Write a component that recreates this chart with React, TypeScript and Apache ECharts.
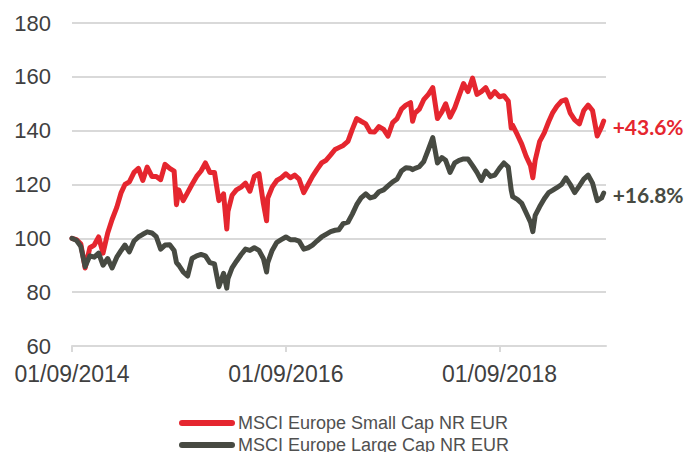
import React, { useEffect, useRef } from "react";
import * as echarts from "echarts";

const seriesNames = ["MSCI Europe Small Cap NR EUR", "MSCI Europe Large Cap NR EUR"];
const endLabels = ["+43.6%", "+16.8%"];
const yTicks = [60, 80, 100, 120, 140, 160, 180];
const xTickDates = ["2014-09-01", "2016-09-01", "2018-09-01"];

const dates = [
  "2014-09-01","2014-09-16","2014-10-01","2014-10-16","2014-11-01","2014-11-16","2014-12-01","2014-12-16",
  "2015-01-01","2015-01-16","2015-02-01","2015-02-16","2015-03-01","2015-03-16","2015-04-01","2015-04-16",
  "2015-05-01","2015-05-16","2015-06-01","2015-06-16","2015-07-01","2015-07-16","2015-08-01","2015-08-16",
  "2015-08-24","2015-09-01","2015-09-16","2015-10-01","2015-10-16","2015-11-01","2015-11-16","2015-12-01",
  "2015-12-16","2016-01-01","2016-01-16","2016-02-01","2016-02-12","2016-02-16","2016-03-01","2016-03-16",
  "2016-04-01","2016-04-16","2016-05-01","2016-05-16","2016-06-01","2016-06-16","2016-06-27","2016-07-01",
  "2016-07-16","2016-08-01","2016-08-16","2016-09-01","2016-09-16","2016-10-01","2016-10-16","2016-11-01",
  "2016-11-16","2016-12-01","2016-12-16","2017-01-01","2017-01-16","2017-02-01","2017-02-16","2017-03-01",
  "2017-03-16","2017-04-01","2017-04-16","2017-05-01","2017-05-16","2017-06-01","2017-06-16","2017-07-01",
  "2017-07-16","2017-08-01","2017-08-16","2017-09-01","2017-09-16","2017-10-01","2017-10-16","2017-11-01",
  "2017-11-08","2017-11-16","2017-12-01","2017-12-16","2018-01-01","2018-01-16","2018-02-01","2018-02-16",
  "2018-03-01","2018-03-16","2018-04-01","2018-04-16","2018-05-01","2018-05-16","2018-06-01","2018-06-16",
  "2018-07-01","2018-07-16","2018-08-01","2018-08-16","2018-09-01","2018-09-16","2018-10-01","2018-10-11",
  "2018-10-16","2018-11-01","2018-11-16","2018-12-01","2018-12-16","2018-12-24","2019-01-01","2019-01-16",
  "2019-02-01","2019-02-16","2019-03-01","2019-03-16","2019-04-01","2019-04-16","2019-05-01","2019-05-16",
  "2019-06-01","2019-06-16","2019-07-01","2019-07-16","2019-08-01","2019-08-16","2019-08-23"
];

const smallCap = [
  100, 99.5, 98, 89, 96.5, 97.5, 100.5, 94.5,
  102, 107, 111.5, 117, 120, 121, 124.5, 126,
  121.5, 126.5, 123, 123, 121.8, 127.5, 126, 125,
  112.5, 118, 114, 117, 120, 123, 125, 128,
  124.5, 124.5, 114, 116.5, 103.5, 110, 116, 118,
  119, 120.5, 117.5, 123, 124, 113, 106.5, 115,
  119, 121.5, 122.5, 124, 122.5, 123.5, 122, 117,
  120, 123, 125.5, 128, 129, 131, 133, 133.7,
  134.5, 136, 140.5, 144.5, 143.5, 142.5, 139.6, 139.5,
  141.5, 140.5, 138, 143, 144.5, 148, 149.5, 150.4,
  143.5, 146.5, 148, 151.5, 153.5, 156, 144.5, 147,
  150, 145, 148.5, 153, 157.5, 154.5, 159.5, 153.5,
  154.5, 156, 152.5, 154.5, 152.6, 153, 151, 141,
  142, 138.5, 135, 130.5, 127, 122.5, 129, 135.9,
  139.2, 143.3, 146.5, 149, 151, 151.5, 146.5, 144,
  142.5, 147.5, 149.5, 147.5, 138, 141.5, 143.6
];

const largeCap = [
  100, 99.3, 97, 89.5, 93.5, 93, 94.5, 90,
  92.5, 89, 93, 95.5, 97.5, 95, 99, 100.5,
  101.5, 102.4, 102, 100.6, 96, 97.5, 97.6, 95.5,
  91, 90, 87.5, 86, 92.5, 93.5, 94, 93.5,
  91, 90.5, 82, 87, 81.5, 85, 89, 91.5,
  94, 96, 95.5, 96.5, 95.5, 92.5, 87.5, 91,
  95.5, 98.5, 99.5, 100.5, 99.5, 99.5, 99, 96,
  96.5, 97.5, 99, 100.5, 101.5, 102.5, 103, 103.2,
  105.5, 106, 109, 112.5, 115, 116.5, 115, 115.5,
  117.3, 118, 119.5, 121, 122, 125, 126.2, 126,
  125.5, 126, 126.6, 128.5, 133, 137.4, 128, 130,
  129, 124.5, 128, 129, 129.5, 129.5, 127, 124.5,
  121.5, 125, 123, 123.5, 126, 128, 126.5, 118,
  115.5, 114.5, 113, 109.5, 106, 102.5, 108.5, 111.7,
  114.7, 117, 117.8, 118.8, 120, 122.5, 120, 117,
  119.5, 122, 123.5, 120.5, 114, 115, 116.8
];

const RED = "#E5262F";
const DARK = "#474A42";
const AXIS_TEXT = "#404040";
const FONT = "'Liberation Sans', Arial, sans-serif";

function toTs(s: string) {
  const [y, m, d] = s.split("-").map(Number);
  return Date.UTC(y, m - 1, d);
}

function fmt(v: number) {
  const d = new Date(v);
  const dd = String(d.getUTCDate()).padStart(2, "0");
  const mm = String(d.getUTCMonth() + 1).padStart(2, "0");
  return `${dd}/${mm}/${d.getUTCFullYear()}`;
}

export default function App() {
  const ref = useRef<HTMLDivElement>(null);
  useEffect(() => {
    document.body.style.margin = "0";
    if (!ref.current) return;
    const chart = echarts.init(ref.current, undefined, { renderer: "svg" });
    const tickVals = xTickDates.map(toTs);
    const mk = (vals: number[]) => dates.map((d, i) => [toTs(d), vals[i]]);
    const pill = "path://M3,0 L53,0 A3,3 0 0 1 53,6 L3,6 A3,3 0 0 1 3,0 Z";
    const legendBase = {
      orient: "horizontal",
      left: 179,
      itemWidth: 56,
      itemHeight: 6,
      padding: 0,
      icon: pill,
      textStyle: { fontSize: 18, color: "#505050", fontFamily: FONT, padding: [0, 0, 0, -2] },
    };
    chart.setOption({
      animation: false,
      backgroundColor: "#ffffff",
      grid: { left: 72, right: 80, top: 23, height: 323 },
      legend: [
        { ...legendBase, top: 414, data: [seriesNames[0]] },
        { ...legendBase, top: 436, data: [seriesNames[1]] },
      ],
      xAxis: {
        type: "value",
        min: toTs("2014-09-01"),
        max: toTs("2019-08-31"),
        axisLine: { show: true, lineStyle: { color: "#D9D9D9", width: 2 } },
        axisTick: { show: true, customValues: tickVals, length: 6, lineStyle: { color: "#D9D9D9", width: 2 } },
        axisLabel: {
          customValues: tickVals,
          formatter: (v: number) => fmt(v),
          fontSize: 23,
          color: AXIS_TEXT,
          fontFamily: FONT,
          margin: 16,
        },
        splitLine: { show: false },
      },
      yAxis: {
        type: "value",
        min: yTicks[0],
        max: yTicks[yTicks.length - 1],
        interval: 20,
        axisLine: { show: false },
        axisTick: { show: false },
        axisLabel: { fontSize: 22, color: AXIS_TEXT, fontFamily: FONT, margin: 21 },
        splitLine: { lineStyle: { color: "#D9D9D9", width: 2 } },
      },
      series: [
        {
          name: seriesNames[0],
          type: "line",
          data: mk(smallCap),
          showSymbol: false,
          symbol: "none",
          color: RED,
          lineStyle: { color: RED, width: 5, cap: "round", join: "round" },
          endLabel: {
            show: true,
            formatter: endLabels[0],
            color: RED,
            fontWeight: "bold",
            fontSize: 21,
            fontFamily: "Lato, sans-serif",
            distance: 9,
            offset: [0, 6],
          },
        },
        {
          name: seriesNames[1],
          type: "line",
          data: mk(largeCap),
          showSymbol: false,
          symbol: "none",
          color: DARK,
          lineStyle: { color: DARK, width: 5, cap: "round", join: "round" },
          endLabel: {
            show: true,
            formatter: endLabels[1],
            color: DARK,
            fontWeight: "bold",
            fontSize: 21,
            fontFamily: "Lato, sans-serif",
            distance: 9,
            offset: [0, 1],
          },
        },
      ],
    });
    return () => chart.dispose();
  }, []);
  return <div ref={ref} style={{ width: 686, height: 452 }} />;
}
